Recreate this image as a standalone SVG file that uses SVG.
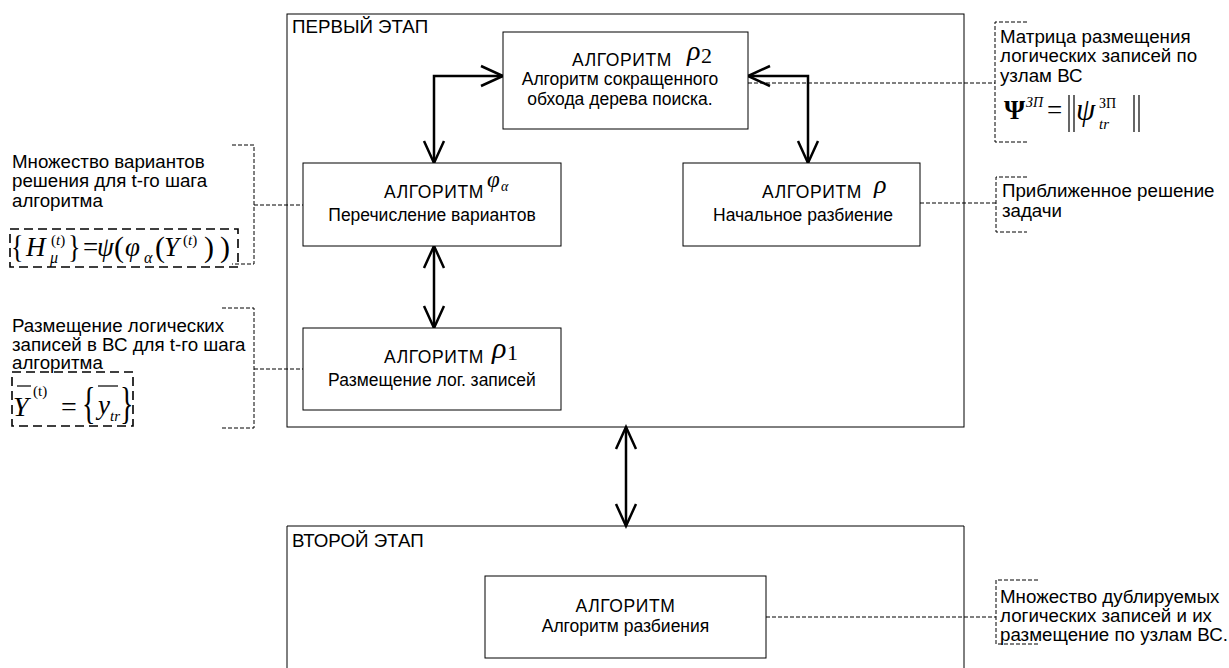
<svg xmlns="http://www.w3.org/2000/svg" width="1229" height="668" viewBox="0 0 1229 668">
<style>
.t{font-family:"Liberation Sans",Arial,sans-serif;font-size:17.5px;fill:#000}
.c{text-anchor:middle}
.k{letter-spacing:0.6px}
.m{font-family:"Liberation Serif","Times New Roman",serif;fill:#000}
.i{font-style:italic}
.box{fill:#fff;stroke:#000;stroke-width:1}
.frame{fill:none;stroke:#000;stroke-width:1}
.arr{fill:none;stroke:#000;stroke-width:2.5;marker-start:url(#ah);marker-end:url(#ah)}
.dl{fill:none;stroke:#000;stroke-width:1;stroke-dasharray:4 2}
.fb{fill:none;stroke:#000;stroke-width:1.6;stroke-dasharray:9 5}
.ln{stroke:#000;stroke-width:1.2}
</style>
<defs>
<marker id="ah" viewBox="-2 -2 26 24" refX="22" refY="10" markerWidth="26" markerHeight="24" markerUnits="userSpaceOnUse" orient="auto-start-reverse" overflow="visible">
<path d="M0,0 L22,10 L0,20" fill="none" stroke="#000" stroke-width="2.5"/>
</marker>
</defs>
<rect width="1229" height="668" fill="#fff"/>

<g id="stage1">
<rect class="frame" x="287" y="14" width="677" height="413"/>
<g transform="scale(1.07,1)"><text class="t" x="272.9" y="33">ПЕРВЫЙ ЭТАП</text></g>
</g>
<g id="stage2">
<path class="frame" d="M287,690 V526 H964 V690"/>
<g transform="scale(1.07,1)"><text class="t" x="272.9" y="547">ВТОРОЙ ЭТАП</text></g>
</g>

<g id="connectors">
<path class="arr" d="M503,76 H434 V163"/>
<path class="arr" d="M748,76 H808 V163"/>
<path class="arr" d="M434,246 V328"/>
<path class="arr" d="M626,427 V526"/>
<path class="dl" d="M254,205 H303"/>
<path class="dl" d="M254,369 H303"/>
<path class="dl" d="M748,83 H995"/>
<path class="dl" d="M920,203 H996"/>
<path class="dl" d="M766,617 H996"/>
</g>

<g id="rho2">
<rect class="box" x="503" y="32" width="245" height="97"/>
<text class="t c k" x="622" y="66">АЛГОРИТМ</text>
<text class="m i" x="687" y="60" font-size="28">ρ</text>
<text class="m" x="701" y="63" font-size="22">2</text>
<text class="t c" x="620" y="85">Алгоритм сокращенного</text>
<text class="t c" x="620" y="105">обхода дерева поиска.</text>
</g>

<g id="phi">
<rect class="box" x="303" y="163" width="258" height="83"/>
<text class="t c k" x="434" y="198">АЛГОРИТМ</text>
<text class="m i" x="487" y="187" font-size="23">φ</text>
<text class="m i" x="501" y="191" font-size="14">α</text>
<text class="t c" x="432" y="221">Перечисление вариантов</text>
</g>

<g id="rho1">
<rect class="box" x="303" y="328" width="258" height="82"/>
<text class="t c k" x="434" y="363">АЛГОРИТМ</text>
<text class="m i" x="492" y="358" font-size="30">ρ</text>
<text class="m" x="507" y="360" font-size="22">1</text>
<text class="t c" x="432" y="386">Размещение лог. записей</text>
</g>

<g id="rho">
<rect class="box" x="683" y="163" width="237" height="83"/>
<text class="t c k" x="812" y="198">АЛГОРИТМ</text>
<text class="m i" x="874" y="193" font-size="26">ρ</text>
<text class="t c" x="803" y="221">Начальное разбиение</text>
</g>

<g id="alg2">
<rect class="box" x="485" y="576" width="281" height="82"/>
<text class="t c k" x="625.5" y="612">АЛГОРИТМ</text>
<text class="t c" x="625.5" y="632">Алгоритм разбиения</text>
</g>

<g id="note-variants">
<path class="dl" d="M232,145 H254 V264 H232"/>
<g transform="scale(1.07,1)">
<text class="t" x="11.2" y="168">Множество вариантов</text>
<text class="t" x="11.2" y="187">решения для t-го шага</text>
<text class="t" x="11.2" y="207">алгоритма</text>
</g>
<rect class="fb" x="10" y="229" width="228" height="38"/>
<text class="m" transform="translate(11,258) scale(1,1.25)" font-size="26">{</text>
<text class="m i" x="26" y="256" font-size="27">H</text>
<text class="m" x="51" y="245" font-size="15">(<tspan class="i">t</tspan>)</text>
<text class="m i" x="50" y="263" font-size="16">μ</text>
<text class="m" transform="translate(68,258) scale(1,1.25)" font-size="26">}</text>
<text class="m" x="83" y="256" font-size="27">=</text>
<text class="m i" x="97" y="256" font-size="27">ψ</text>
<text class="m" x="114" y="257" font-size="30">(</text>
<text class="m i" x="125" y="256" font-size="27">φ</text>
<text class="m i" x="144" y="263" font-size="16">α</text>
<text class="m" x="155" y="257" font-size="30">(</text>
<text class="m i" x="164" y="256" font-size="27">Y</text>
<text class="m" x="183" y="245" font-size="15">(<tspan class="i">t</tspan>)</text>
<text class="m" x="204" y="257" font-size="30">)</text>
<text class="m" x="220" y="257" font-size="30">)</text>
</g>

<g id="note-placement">
<path class="dl" d="M222,308 H254 V428 H222"/>
<g transform="scale(1.07,1)">
<text class="t" x="11.2" y="332">Размещение логических</text>
<text class="t" x="11.2" y="351">записей в ВС для t-го шага</text>
<text class="t" x="11.2" y="369">алгоритма</text>
</g>
<rect class="fb" x="12" y="372" width="121" height="54"/>
<line class="ln" x1="17" y1="386" x2="31" y2="386"/>
<text class="m i" x="13" y="416" font-size="28">Y</text>
<text class="m" x="33" y="396" font-size="15">(t)</text>
<text class="m" x="61" y="416" font-size="28">=</text>
<text class="m" transform="translate(82,418) scale(1,1.6)" font-size="28">{</text>
<line class="ln" x1="98" y1="386" x2="118" y2="386"/>
<text class="m i" x="98" y="414" font-size="27">y</text>
<text class="m i" x="110" y="421" font-size="15">tr</text>
<text class="m" transform="translate(120,418) scale(1,1.6)" font-size="28">}</text>
</g>

<g id="note-matrix">
<path class="dl" d="M1027,22 H995 V142 H1027"/>
<g transform="scale(1.07,1)">
<text class="t" x="934.6" y="43">Матрица размещения</text>
<text class="t" x="934.6" y="62">логических записей по</text>
<text class="t" x="934.6" y="82">узлам ВС</text>
</g>
<text class="m" x="1004" y="119" font-size="27" font-weight="bold">Ψ</text>
<text class="m i" x="1026" y="107" font-size="14">ЗП</text>
<text class="m" x="1047" y="119" font-size="27">=</text>
<line class="ln" x1="1069" y1="95" x2="1069" y2="132"/>
<line class="ln" x1="1074" y1="95" x2="1074" y2="132"/>
<text class="m i" x="1076" y="120" font-size="31">ψ</text>
<text class="m" x="1099" y="108" font-size="14">ЗП</text>
<text class="m i" x="1099" y="129" font-size="15">tr</text>
<line class="ln" x1="1134" y1="95" x2="1134" y2="132"/>
<line class="ln" x1="1139" y1="95" x2="1139" y2="132"/>
</g>

<g id="note-approx">
<path class="dl" d="M1027,177 H996 V232 H1027"/>
<g transform="scale(1.07,1)">
<text class="t" x="936.4" y="197">Приближенное решение</text>
<text class="t" x="936.4" y="217">задачи</text>
</g>
</g>

<g id="note-dup">
<path class="dl" d="M1038,580 H996 V644 H1038"/>
<g transform="scale(1.07,1)">
<text class="t" x="934.6" y="603">Множество дублируемых</text>
<text class="t" x="934.6" y="622">логических записей и их</text>
<text class="t" x="934.6" y="641">размещение по узлам ВС.</text>
</g>
</g>
</svg>
